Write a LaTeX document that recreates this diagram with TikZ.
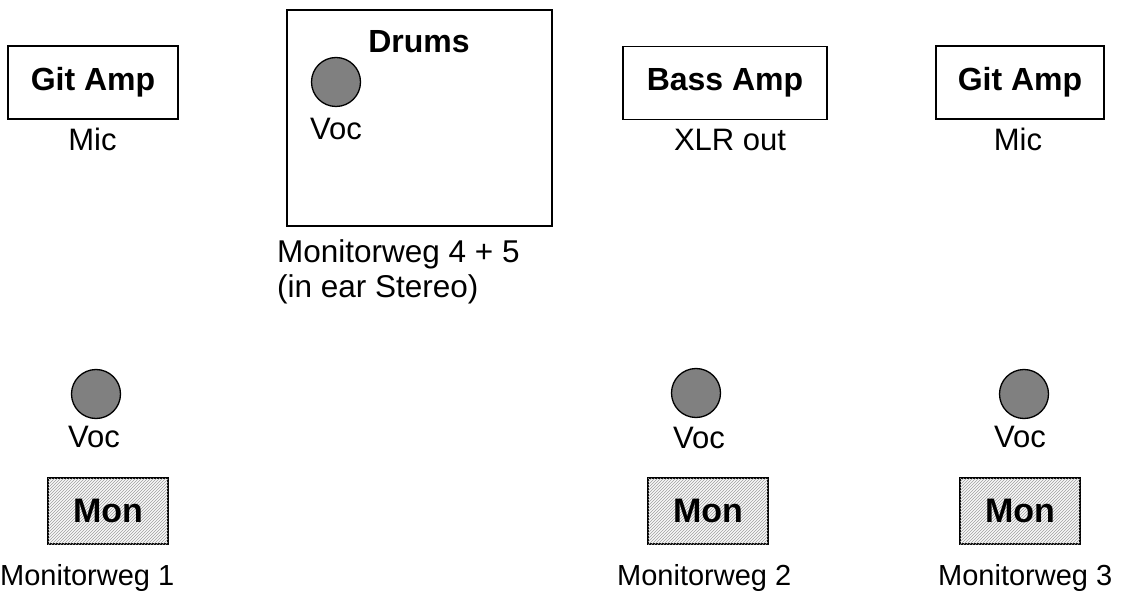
\documentclass[tikz,border=0pt]{standalone}
\usepackage{fontspec}
\setmainfont{Liberation Sans}
\usetikzlibrary{patterns}

\begin{document}
\begin{tikzpicture}[x=1pt, y=-1pt,
    lbl/.style={font=\fontsize{31}{35}\selectfont, inner sep=0pt},
    boldlbl/.style={font=\fontsize{32}{38}\selectfont\bfseries, inner sep=0pt},
    ampbox/.style={draw, line width=1.8pt, minimum height=73pt, boldlbl},
    monbox/.style={draw, line width=1.4pt, minimum width=120pt, minimum height=66pt, boldlbl,
        font=\fontsize{34}{38}\selectfont\bfseries,
        fill=gray!5, postaction={pattern=north east lines, pattern color=gray!75}},
    vocmic/.style={circle, draw, line width=1.3pt, fill=gray, minimum size=49pt, inner sep=0pt}]
    \useasboundingbox (0,0) rectangle (1132,593);

    % Amps (top row)
    \node[ampbox, minimum width=170pt] (gitampl) at (93, 82.5) {Git Amp};
    \node[lbl, anchor=base] (micl) at (92.5, 151) {Mic};

    \node[ampbox, minimum width=204pt] (bassamp) at (725, 83) {Bass Amp};
    \node[lbl, anchor=base] (xlrout) at (730, 151) {XLR out};

    \node[ampbox, minimum width=168pt] (gitampr) at (1020, 82.5) {Git Amp};
    \node[lbl, anchor=base] (micr) at (1018, 151) {Mic};

    % Drum riser
    \node[draw, line width=1.8pt, minimum width=265pt, minimum height=216pt] (drums) at (419.5, 118) {};
    \node[boldlbl, anchor=base] (drumslabel) at (419, 53) {Drums};
    \node[vocmic] (vocdrums) at (336, 82) {};
    \node[lbl, anchor=base] (vocdrumslabel) at (336, 140) {Voc};
    \node[lbl, font=\fontsize{31.5}{35}\selectfont, anchor=base west] (monfour) at (277, 263) {Monitorweg 4 + 5};
    \node[lbl, font=\fontsize{31.5}{35}\selectfont, anchor=base west] (monfourb) at (277, 298) {(in ear Stereo)};

    % Front line: vocal mics
    \node[vocmic] (vocone) at (96, 394) {};
    \node[vocmic] (voctwo) at (696, 393) {};
    \node[vocmic] (vocthree) at (1024, 394) {};
    \node[lbl, anchor=base] (voconelabel) at (94, 447) {Voc};
    \node[lbl, anchor=base] (voctwolabel) at (699, 448) {Voc};
    \node[lbl, anchor=base] (vocthreelabel) at (1020, 447) {Voc};

    % Wedges
    \node[monbox] (monone) at (108, 511) {Mon};
    \node[monbox] (montwo) at (708, 511) {Mon};
    \node[monbox] (monthree) at (1020, 511) {Mon};
    \node[lbl, font=\fontsize{29}{35}\selectfont, anchor=base west] (weg1) at (0, 585) {Monitorweg 1};
    \node[lbl, font=\fontsize{29}{35}\selectfont, anchor=base west] (weg2) at (617, 585) {Monitorweg 2};
    \node[lbl, font=\fontsize{29}{35}\selectfont, anchor=base west] (weg3) at (938, 585) {Monitorweg 3};
\end{tikzpicture}
\end{document}
